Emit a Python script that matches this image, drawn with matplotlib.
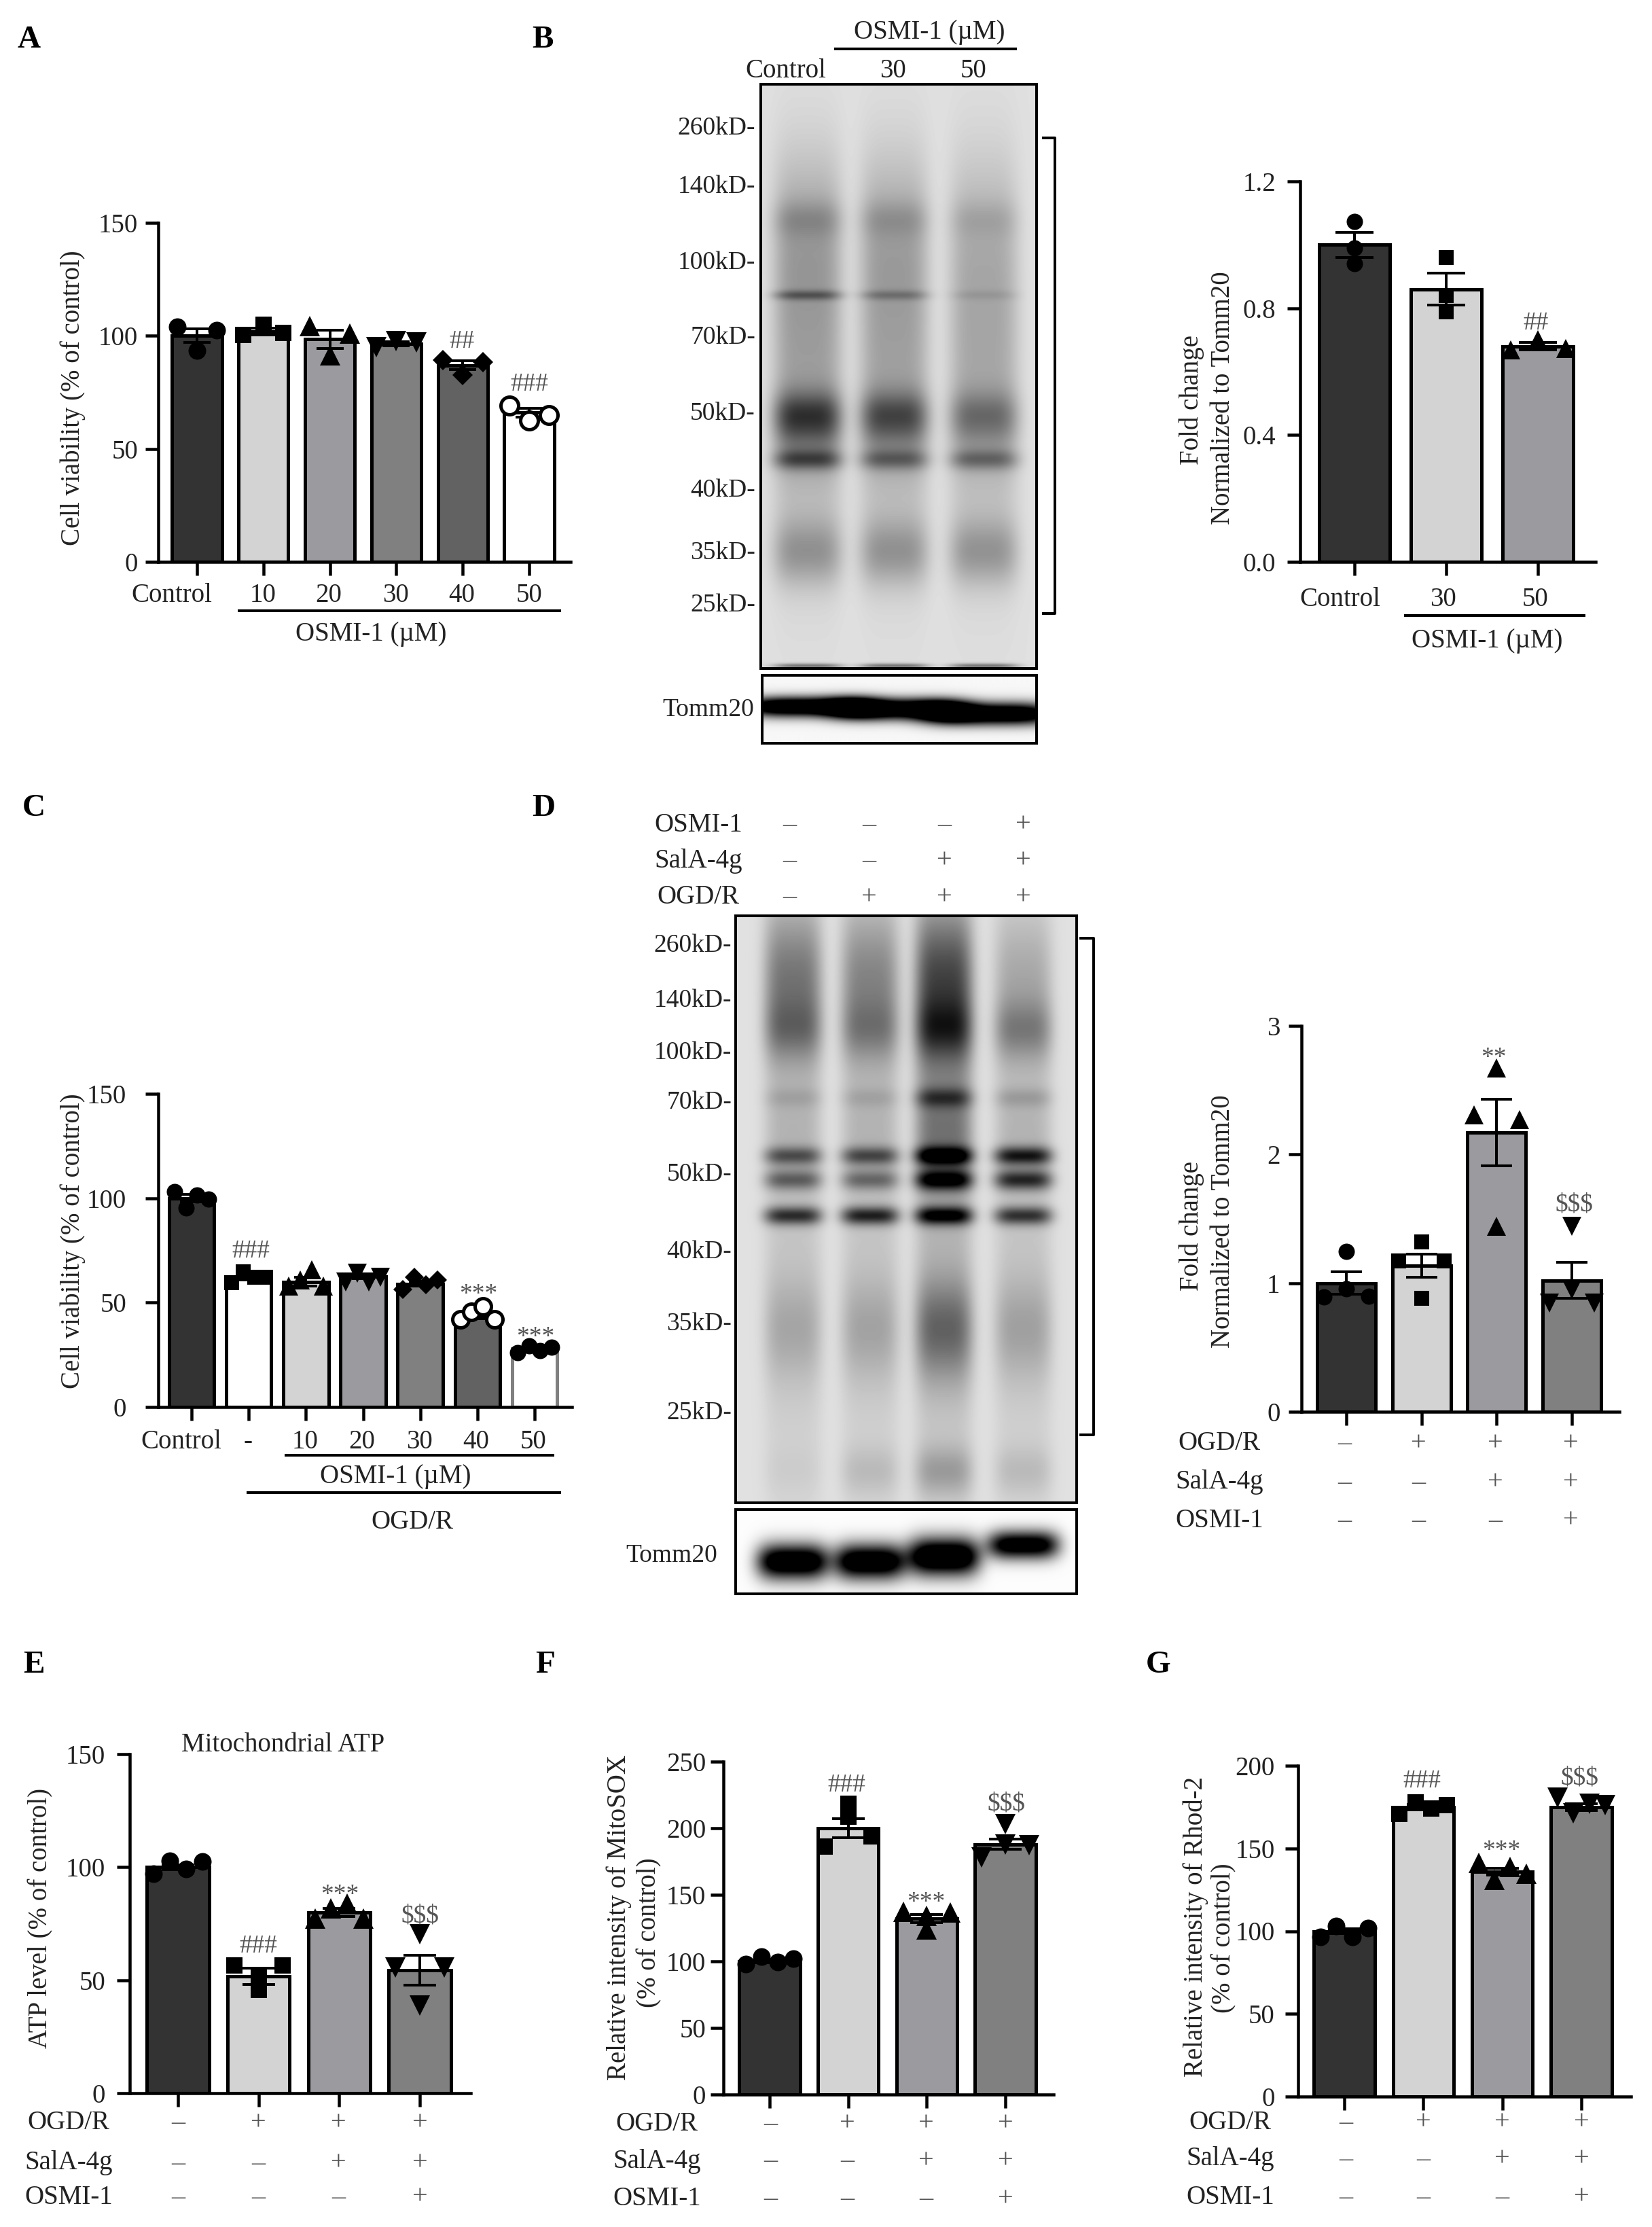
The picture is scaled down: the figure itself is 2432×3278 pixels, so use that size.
import numpy as np
import matplotlib
matplotlib.use("Agg")
import matplotlib.pyplot as plt

W, H = 2432, 3278
plt.rcParams['font.family'] = ['Liberation Serif', 'DejaVu Serif']
plt.rcParams['mathtext.default'] = 'regular'
PT = 0.72  # px -> pt at dpi 100

# 柱颜色
DARK, LIGHT, MID, GREY, DGREY = '#333333', '#d3d3d3', '#9b9b9f', '#808080', '#626262'
TEXT = '#222222'
ANNOT = '#555555'
MARKER_SCALE = {'o': 1.0, 's': 0.95, '^': 1.15, 'v': 1.15, 'D': 0.8, 'O': 1.0}

# A
a_means = [100, 102, 98.5, 96.5, 87, 66]
a_errs = [3, 1.5, 4, 1, 2, 2]
a_points = [[103.9, 93.5, 102.4], [100.3, 105, 101.3], [104.3, 91.4, 100.9],
            [95, 97.7, 97], [89.3, 82.6, 88.3], [69, 62.6, 65]]
a_ticks = [0, 50, 100, 150]

# B chart
b_means = [1.0, 0.86, 0.68]
b_errs = [0.04, 0.05, 0.012]
b_points = [[1.074, 0.99, 0.941], [0.96, 0.84, 0.788], [0.668, 0.70, 0.672]]
b_ticks = [0.0, 0.4, 0.8, 1.2]
b_ticklabels = ['0.0', '0.4', '0.8', '1.2']

# C
c_means = [100, 62, 60, 62.5, 59, 44, 28]
c_errs = [1.7, 1.2, 2, 1, 1.2, 1.6, 0.7]
c_points = [[103, 95.2, 101.4, 99.7], [59.4, 64.6, 62, 62], [58, 61, 65.8, 58],
            [60, 64, 60, 62], [56.3, 62.2, 58.7, 61], [42, 45.6, 48, 42],
            [26, 29.3, 27, 28.6]]
c_ticks = [0, 50, 100, 150]

# D chart
d_means = [1.0, 1.135, 2.17, 1.02]
d_errs = [0.088, 0.09, 0.26, 0.14]
d_points = [[0.89, 1.248, 0.957, 0.9], [1.174, 1.318, 0.884, 1.174],
            [2.31, 2.67, 1.44, 2.27], [0.845, 1.44, 0.95, 0.845]]
d_ticks = [0, 1, 2, 3]

# E
e_means = [100, 51.7, 80, 54.5]
e_errs = [1, 3.5, 1.8, 6.6]
e_points = [[97, 102.9, 99.2, 102.4], [56.5, 51.9, 45.6, 56.5],
            [77.3, 81.8, 84, 77.3], [55.7, 70.4, 38.9, 55.7]]
e_ticks = [0, 50, 100, 150]

# F
f_means = [100, 200, 132, 188]
f_errs = [1, 7, 3, 4]
f_points = [[98, 103.7, 99.7, 102], [186, 218.6, 208.6, 194],
            [137, 134, 124, 136.6], [178, 203, 188, 187]]
f_ticks = [0, 50, 100, 150, 200, 250]

# G
g_means = [100, 175, 136, 175]
g_errs = [1.5, 1.5, 2, 2]
g_points = [[96.7, 102.9, 96.7, 102], [170.8, 178, 174, 176],
            [141.4, 131, 138.7, 134.6], [180.5, 171.3, 177, 176]]
g_ticks = [0, 50, 100, 150, 200]

# 条带 (y, sigma, 每道强度)
blot_b_lanes = [0.17, 0.484, 0.81]
blot_b_bands = [(0.488, 0.20, [0.25, 0.24, 0.22]),
                (0.260, 0.100, [0.14, 0.13, 0.09]),
                (0.231, 0.022, [0.12, 0.10, 0.07]),
                (0.361, 0.006, [0.28, 0.18, 0.06]),
                (0.565, 0.028, [0.34, 0.30, 0.20]),
                (0.643, 0.012, [0.36, 0.28, 0.28]),
                (0.600, 0.040, [0.18, 0.14, 0.10]),
                (0.802, 0.040, [0.24, 0.24, 0.24]),
                (0.996, 0.003, [0.40, 0.40, 0.40])]
tomm_b_lanes = [0.17, 0.5, 0.83]
tomm_b_bands = [(0.45, 0.10, [1.2, 0.5, 0.0]),
                (0.52, 0.11, [0.3, 1.0, 0.6]),
                (0.60, 0.11, [0.0, 0.0, 0.9])]
blot_d_lanes = [0.168, 0.394, 0.611, 0.844]
blot_d_bands = [(0.110, 0.090, [0.40, 0.34, 0.58, 0.20]),
                (0.195, 0.035, [0.20, 0.18, 0.34, 0.24]),
                (0.310, 0.012, [0.08, 0.08, 0.34, 0.12]),
                (0.365, 0.080, [0.10, 0.10, 0.32, 0.10]),
                (0.409, 0.011, [0.42, 0.45, 0.80, 0.65]),
                (0.450, 0.012, [0.38, 0.34, 0.75, 0.60]),
                (0.511, 0.011, [0.60, 0.65, 0.80, 0.58]),
                (0.705, 0.060, [0.14, 0.15, 0.36, 0.16]),
                (0.947, 0.030, [0.03, 0.10, 0.20, 0.10]),
                (0.600, 0.300, [0.10, 0.10, 0.15, 0.10])]
tomm_d_lanes = [0.168, 0.394, 0.611, 0.844]
tomm_d_bands = [(0.62, 0.15, [1.3, 1.3, 0.0, 0.0]),
                (0.56, 0.16, [0.0, 0.0, 1.4, 0.0]),
                (0.42, 0.12, [0.0, 0.0, 0.0, 1.2])]

mw_b = ['260kD-', '140kD-', '100kD-', '70kD-', '50kD-', '40kD-', '35kD-', '25kD-']
mw_b_y = [189, 275, 387, 497, 609, 722, 814, 891]
mw_d_y = [1392, 1473, 1550, 1623, 1729, 1843, 1949, 2080]

fig = plt.figure(figsize=(W / 100, H / 100), dpi=100, facecolor='white')


def txt(x, y, s, size=28, color=TEXT, ha='center', va='center', **kw):
    return fig.text(x / W, 1 - y / H, s, fontsize=size, color=color, ha=ha, va=va, **kw)


def rect(x0, y_top, x1, y_bottom):
    return [x0 / W, 1 - y_bottom / H, (x1 - x0) / W, (y_bottom - y_top) / H]


def hline(x0, x1, y, lw=4):
    fig.add_artist(plt.Line2D([x0 / W, x1 / W], [1 - y / H, 1 - y / H], color='black', lw=lw * PT))


def swarm(vals, px_per_unit, gap=18, spread=0.3):
    # 离得近的点横向铺开，其余放中间
    order = np.argsort(vals)
    groups, cur = [], [order[0]]
    for i, j in zip(order[:-1], order[1:]):
        if (vals[j] - vals[i]) * px_per_unit < gap:
            cur.append(j)
        else:
            groups.append(cur)
            cur = [j]
    groups.append(cur)
    off = np.zeros(len(vals))
    for g in groups:
        if len(g) > 1:
            off[sorted(g)] = np.linspace(-spread, spread, len(g))
    return off


def bar_panel(box, centers, ymax, ticks, means, errs, points, colors, markers, bar_w=0.77,
              ticklabels=None, pad=12, ms=24, edges=None):
    x_axis, y_top, x_end, y_zero = box
    c0 = centers[0]
    step = (centers[-1] - centers[0]) / (len(centers) - 1)
    ax = fig.add_axes(rect(x_axis, y_top, x_end, y_zero))
    ax.patch.set_alpha(0)
    ax.set_xlim((x_axis - c0) / step, (x_end - c0) / step)
    ax.set_ylim(0, ymax)
    px_per_unit = (y_zero - y_top) / ymax
    xs = np.arange(len(means))
    edges = edges or ['black'] * len(means)
    ax.bar(xs, means, width=bar_w, color=colors, edgecolor=edges, linewidth=5 * PT, zorder=2)
    ax.errorbar(xs, means, yerr=errs, fmt='none', ecolor='black', elinewidth=4 * PT,
                capsize=0.205 * step * PT, capthick=4 * PT, zorder=4, clip_on=False)
    for i, vals in enumerate(points):
        off = swarm(vals, px_per_unit)
        open_marker = markers[i] == 'O'
        ax.plot(i + off, vals, ls='none', marker='o' if open_marker else markers[i],
                ms=ms * MARKER_SCALE[markers[i]] * PT, mfc='white' if open_marker else 'black', mec='black',
                mew=(5 if open_marker else 0) * PT, zorder=3 if not open_marker else 5, clip_on=False)
    for s in ('top', 'right'):
        ax.spines[s].set_visible(False)
    for s in ('left', 'bottom'):
        ax.spines[s].set_linewidth(4.5 * PT)
    ax.set_yticks(ticks)
    ax.set_yticklabels(ticklabels or [str(t) for t in ticks])
    ax.set_xticks(xs)
    ax.set_xticklabels([])
    ax.tick_params(axis='y', length=19 * PT, width=4.5 * PT, labelsize=28, pad=pad, labelcolor=TEXT)
    ax.tick_params(axis='x', length=20 * PT, width=4.5 * PT)
    return ax


def blot(box, lanes, bands, half_w, bg):
    x0, y0, x1, y1 = box
    ax = fig.add_axes(rect(x0, y0, x1, y1))
    xx = np.linspace(0, 1, int(x1 - x0))
    yy = np.linspace(0, 1, int(y1 - y0))
    dark = np.full((len(yy), len(xx)), float(bg))
    for y, sig, amps in bands:
        prof = np.exp(-0.5 * ((yy - y) / sig) ** 2)
        for c, a in zip(lanes, amps):
            mask = np.exp(-(np.abs(xx - c) / half_w) ** 4)
            dark += a * np.outer(prof, mask)
    ax.imshow(np.clip(1 - dark, 0, 1), cmap='gray', vmin=0, vmax=1, aspect='auto')
    ax.set_xticks([])
    ax.set_yticks([])
    for s in ax.spines.values():
        s.set_linewidth(4 * PT)
    return ax


def bracket(x0, x1, y0, y1):
    fig.add_artist(plt.Line2D([x0 / W, x1 / W, x1 / W, x0 / W],
                              [1 - y0 / H, 1 - y0 / H, 1 - y1 / H, 1 - y1 / H],
                              color='black', lw=4 * PT))


def sign_rows(label_x, sign_x, rows):
    for name, y, signs in rows:
        txt(label_x, y, name)
        for x, s in zip(sign_x, signs):
            txt(x, y, '+' if s else '–', size=29, color='#555555')


# 面板字母
for s, x, y in [('A', 25, 70), ('B', 783, 70), ('C', 33, 1201), ('D', 783, 1201),
                ('E', 34, 2462), ('F', 788, 2462), ('G', 1687, 2462)]:
    txt(x, y, s, size=34, color='black', ha='left', va='baseline', fontweight='bold')

# A
bar_panel((233, 328, 840, 827), [290, 388, 485.5, 584, 682, 779], 150, a_ticks, a_means, a_errs, a_points,
          [DARK, LIGHT, MID, GREY, DGREY, 'white'], ['o', 's', '^', 'v', 'D', 'O'], bar_w=0.75, pad=8, ms=26)
txt(107, 586, 'Cell viability (% of control)', rotation=90)
for x, s in zip([253, 387, 484, 582, 680, 779], ['Control', '10', '20', '30', '40', '50']):
    txt(x, 877, s)
hline(352, 824, 899)
txt(546, 934, 'OSMI-1 (µM)')
txt(680, 503, '##', size=27, color=ANNOT)
txt(779, 566, '###', size=27, color=ANNOT)

# B
blot((1120, 124, 1526, 984), blot_b_lanes, blot_b_bands, 0.125, 0.12)
blot((1122, 994, 1526, 1094), tomm_b_lanes, tomm_b_bands, 0.24, 0.03)
txt(1368, 48, 'OSMI-1 (µM)')
hline(1230, 1495, 72)
for x, s in zip([1157, 1314, 1433], ['Control', '30', '50']):
    txt(x, 104, s)
for y, s in zip(mw_b_y, mw_b):
    txt(1112, y, s, size=27, ha='right')
txt(1110, 1045, 'Tomm20', size=27, ha='right')
bracket(1536, 1553, 203, 903)

bar_panel((1914, 267, 2349, 827), [1994, 2129, 2264], 1.2, b_ticks, b_means, b_errs, b_points,
          [DARK, LIGHT, MID], ['o', 's', '^'], ticklabels=b_ticklabels, pad=12)
txt(1754, 588, 'Fold change', rotation=90)
txt(1801, 586, 'Normalized to Tomm20', rotation=90)
for x, s in zip([1973, 2124, 2260], ['Control', '30', '50']):
    txt(x, 882, s)
hline(2069, 2332, 906)
txt(2189, 944, 'OSMI-1 (µM)')
txt(2261, 476, '##', size=27, color=ANNOT)

# C
bar_panel((233, 1610, 842, 2071), [282, 365.5, 450, 534, 619, 703, 787], 150, c_ticks, c_means, c_errs, c_points,
          [DARK, 'white', LIGHT, MID, GREY, DGREY, 'white'], ['o', 's', '^', 'v', 'D', 'O', 'o'], bar_w=0.79,
          pad=20, edges=['black'] * 6 + [GREY])
txt(107, 1827, 'Cell viability (% of control)', rotation=90)
for x, s in zip([267, 365, 449, 533, 617, 701, 785], ['Control', '-', '10', '20', '30', '40', '50']):
    txt(x, 2122, s)
hline(421, 814, 2142)
txt(582, 2173, 'OSMI-1 (µM)')
hline(365, 824, 2197)
txt(607, 2240, 'OGD/R')
txt(369, 1842, '###', size=27, color=ANNOT)
txt(704, 1906, '***', size=27, color=ANNOT)
txt(788, 1969, '***', size=27, color=ANNOT)

# D
blot((1083, 1348, 1585, 2212), blot_d_lanes, blot_d_bands, 0.085, 0.12)
blot((1083, 2222, 1585, 2346), tomm_d_lanes, tomm_d_bands, 0.105, 0.01)
sign_rows(1028, [1162, 1279, 1390, 1506], [('OSMI-1', 1214, [0, 0, 0, 1]),
                                           ('SalA-4g', 1267, [0, 0, 1, 1]),
                                           ('OGD/R', 1321, [0, 1, 1, 1])])
for y, s in zip(mw_d_y, mw_b):
    txt(1077, y, s, size=27, ha='right')
txt(1056, 2290, 'Tomm20', size=27, ha='right')
bracket(1591, 1610, 1381, 2112)

bar_panel((1916, 1510, 2384, 2078), [1982, 2092.5, 2203, 2314], 3, d_ticks, d_means, d_errs, d_points,
          [DARK, LIGHT, MID, GREY], ['o', 's', '^', 'v'], bar_w=0.78, pad=9)
txt(1754, 1805, 'Fold change', rotation=90)
txt(1800, 1798, 'Normalized to Tomm20', rotation=90)
sign_rows(1795, [1979, 2088, 2201, 2312], [('OGD/R', 2125, [0, 1, 1, 1]),
                                           ('SalA-4g', 2182, [0, 0, 1, 1]),
                                           ('OSMI-1', 2238, [0, 0, 0, 1])])
txt(2199, 1558, '**', size=27, color=ANNOT)
txt(2317, 1773, '$$$', size=27, color=ANNOT)

# E
bar_panel((191, 2582, 693, 3081), [262, 380, 499, 618], 150, e_ticks, e_means, e_errs, e_points,
          [DARK, LIGHT, MID, GREY], ['o', 's', '^', 'v'], pad=12, ms=26)
txt(417, 2569, 'Mitochondrial ATP')
txt(60, 2823, 'ATP level (% of control)', rotation=90)
sign_rows(101, [262, 380, 498, 618], [('OGD/R', 3125, [0, 1, 1, 1]),
                                      ('SalA-4g', 3184, [0, 0, 1, 1]),
                                      ('OSMI-1', 3234, [0, 0, 0, 1])])
txt(380, 2865, '###', size=27, color=ANNOT)
txt(500, 2790, '***', size=27, color=ANNOT)
txt(618, 2820, '$$$', size=27, color=ANNOT)

# F
bar_panel((1065, 2593, 1551, 3083), [1133, 1247, 1364, 1480], 250, f_ticks, f_means, f_errs, f_points,
          [DARK, LIGHT, MID, GREY], ['o', 's', '^', 'v'], pad=5, ms=26)
txt(911, 2823, 'Relative intensity of MitoSOX', rotation=90)
txt(956, 2845, '(% of control)', rotation=90)
sign_rows(967, [1134, 1247, 1363, 1480], [('OGD/R', 3126, [0, 1, 1, 1]),
                                          ('SalA-4g', 3181, [0, 0, 1, 1]),
                                          ('OSMI-1', 3237, [0, 0, 0, 1])])
txt(1246, 2628, '###', size=27, color=ANNOT)
txt(1363, 2801, '***', size=27, color=ANNOT)
txt(1481, 2655, '$$$', size=27, color=ANNOT)

# G
bar_panel((1911, 2599, 2401, 3086), [1979, 2095, 2211, 2328], 200, g_ticks, g_means, g_errs, g_points,
          [DARK, LIGHT, MID, GREY], ['o', 's', '^', 'v'], pad=11, ms=26)
txt(1760, 2836, 'Relative intensity of Rhod-2', rotation=90)
txt(1802, 2853, '(% of control)', rotation=90)
sign_rows(1811, [1981, 2095, 2211, 2328], [('OGD/R', 3124, [0, 1, 1, 1]),
                                           ('SalA-4g', 3178, [0, 0, 1, 1]),
                                           ('OSMI-1', 3234, [0, 0, 0, 1])])
txt(2093, 2622, '###', size=27, color=ANNOT)
txt(2210, 2725, '***', size=27, color=ANNOT)
txt(2325, 2617, '$$$', size=27, color=ANNOT)

fig.savefig('out.png', dpi=100, facecolor='white')
plt.close(fig)
